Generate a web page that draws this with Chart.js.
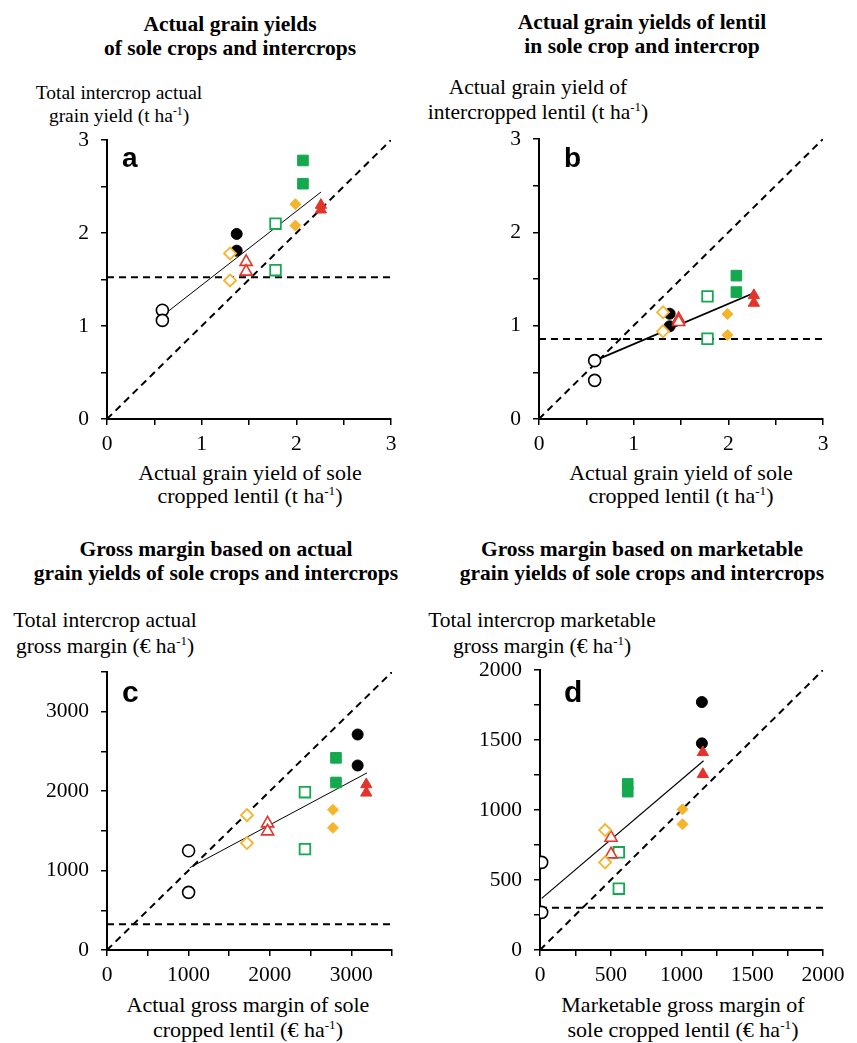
<!DOCTYPE html>
<html>
<head>
<meta charset="utf-8">
<script src="https://cdn.jsdelivr.net/npm/chart.js@4/dist/chart.umd.min.js"></script>
<style>
  body { margin: 0; background: #fff; }
  #page { position: relative; width: 857px; height: 1043px; font-family: 'Liberation Serif', 'Times New Roman', serif; color: #000; }
  .txt { position: absolute; width: 440px; margin-left: -220px; text-align: center; white-space: nowrap; }
  .txt sup { font-size: 0.6em; line-height: 0; vertical-align: 0.6em; }
  canvas { position: absolute; }
</style>
</head>
<body>
<div id="page"></div>
<script>
// marker groups, two points each, same order in every panel:
// open circle, black dot, open diamond, open triangle, open square, orange diamond, green square, red triangle
const groupOf = [0, 0, 1, 1, 2, 2, 3, 3, 4, 4, 5, 5, 6, 6, 7, 7];

// a: actual grain yields (t/ha)
const yieldSoleX  = [0.585, 0.585, 1.37, 1.37, 1.30, 1.30, 1.47, 1.47, 1.78, 1.78, 1.99, 1.99, 2.07, 2.07, 2.26, 2.26];
const yieldTotalY = [1.17, 1.06, 1.99, 1.81, 1.78, 1.49, 1.69, 1.585, 2.10, 1.60, 2.31, 2.08, 2.78, 2.53, 2.30, 2.25];
const yieldFitX = [0.63, 2.26];
const yieldFitY = [1.145, 2.44];

// b: lentil yield sole vs intercropped (t/ha)
const lentilSoleX  = [0.588, 0.588, 1.38, 1.38, 1.31, 1.31, 1.475, 1.475, 1.78, 1.78, 1.99, 1.99, 2.085, 2.085, 2.27, 2.27];
const lentilInterY = [0.625, 0.414, 1.128, 0.993, 1.143, 0.94, 1.07, 1.04, 1.314, 0.86, 1.125, 0.90, 1.536, 1.36, 1.325, 1.243];
const lentilFitX = [0.59, 2.27];
const lentilFitY = [0.625, 1.35];

// c: gross margin, actual yields (EUR/ha)
const marginSoleX  = [1002, 1002, 3078, 3078, 1719, 1719, 1972, 1972, 2431, 2431, 2775, 2775, 2812, 2812, 3184, 3184];
const marginTotalY = [1249, 726, 2713, 2323, 1698, 1346, 1594, 1493, 1987, 1270, 1765, 1538, 2419, 2109, 2084, 1979];
const marginFitX = [1015, 3193];
const marginFitY = [1035, 2230];

// d: gross margin, marketable yields (EUR/ha)
const marketSoleX  = [12, 12, 1144, 1144, 460, 460, 502, 502, 557, 557, 1007, 1007, 620, 620, 1151, 1151];
const marketTotalY = [626, 269, 1771, 1476, 857, 626, 802, 683, 698, 438, 1005, 898, 1186, 1131, 1412, 1255];
const marketFitX = [12, 1156];
const marketFitY = [369, 1352];

// horizontal reference levels (sole crop)
const refLevels = [1.525, 0.857, 323, 302];

const GREEN = '#14a84f', ORANGE = '#f5b42c', RED = '#e3342b';
// order: lower number is drawn on top (open diamonds cover the black dots)
const markers = [
  { shape: 'circle',   fill: '#fff',  line: '#000', r: 6,   bw: 1.6, order: 1 },
  { shape: 'circle',   fill: '#000',  line: '#000', r: 5.5, bw: 1,   order: 3 },
  { shape: 'rectRot',  fill: '#fff',  line: ORANGE, r: 6,   bw: 1.8, order: 1 },
  { shape: 'triangle', fill: '#fff',  line: RED,    r: 7,   bw: 1.6, order: 1 },
  { shape: 'rect',     fill: '#fff',  line: GREEN,  r: 7.5, bw: 1.8, order: 2 },
  { shape: 'rectRot',  fill: ORANGE,  line: ORANGE, r: 5.5, bw: 1,   order: 1 },
  { shape: 'rect',     fill: GREEN,   line: GREEN,  r: 7.5, bw: 1,   order: 1 },
  { shape: 'triangle', fill: RED,     line: RED,    r: 6.5, bw: 1,   order: 1 }
];

const page = document.getElementById('page');

const texts = [
  { html: 'Actual grain yields<br>of sole crops and intercrops', cx: 230, top: 12, size: 21.5, lh: 24, bold: true },
  { html: 'Actual grain yields of lentil<br>in sole crop and intercrop', cx: 642, top: 10, size: 21.5, lh: 24, bold: true },
  { html: 'Gross margin based on actual<br>grain yields of sole crops and intercrops', cx: 216, top: 537, size: 21.5, lh: 24, bold: true },
  { html: 'Gross margin based on marketable<br>grain yields of sole crops and intercrops', cx: 642, top: 537, size: 21.5, lh: 24, bold: true },
  { html: 'Total intercrop actual<br>grain yield (t ha<sup>-1</sup>)', cx: 119, top: 81, size: 19.5, lh: 23 },
  { html: 'Actual grain yield of<br>intercropped lentil (t ha<sup>-1</sup>)', cx: 538, top: 75, size: 21.5, lh: 25 },
  { html: 'Total intercrop actual<br>gross margin (€ ha<sup>-1</sup>)', cx: 105, top: 607, size: 21.5, lh: 26 },
  { html: 'Total intercrop marketable<br>gross margin (€ ha<sup>-1</sup>)', cx: 542, top: 607, size: 21.5, lh: 26 },
  { html: 'Actual grain yield of sole<br>cropped lentil (t ha<sup>-1</sup>)', cx: 250, top: 461, size: 22, lh: 23 },
  { html: 'Actual grain yield of sole<br>cropped lentil (t ha<sup>-1</sup>)', cx: 681, top: 461, size: 22, lh: 23 },
  { html: 'Actual gross margin of sole<br>cropped lentil (€ ha<sup>-1</sup>)', cx: 248, top: 992, size: 22, lh: 25 },
  { html: 'Marketable gross margin of<br>sole cropped lentil (€ ha<sup>-1</sup>)', cx: 683, top: 992, size: 22, lh: 25 }
];
texts.forEach(t => {
  const d = document.createElement('div');
  d.className = 'txt';
  d.innerHTML = t.html;
  d.style.left = t.cx + 'px';
  d.style.top = t.top + 'px';
  d.style.fontSize = t.size + 'px';
  d.style.lineHeight = t.lh + 'px';
  if (t.bold) d.style.fontWeight = 'bold';
  page.appendChild(d);
});

const letterPlugin = {
  id: 'panelLetter',
  afterDraw(chart, args, opts) {
    const ctx = chart.ctx, area = chart.chartArea;
    ctx.save();
    ctx.font = 'bold ' + opts.size + 'px "Liberation Sans", Arial, sans-serif';
    ctx.fillStyle = '#000';
    ctx.textBaseline = 'alphabetic';
    ctx.fillText(opts.text, area.left + opts.dx, area.top + opts.dy);
    ctx.restore();
  }
};

const panels = [
  { letter: 'a', xs: yieldSoleX,  ys: yieldTotalY,  fitX: yieldFitX,  fitY: yieldFitY,  ref: refLevels[0], max: 3,    step: 0.5, every: 1,    area: [107, 140, 391, 419], dx: 15, dy: 27, lsize: 28, fitW: 1 },
  { letter: 'b', xs: lentilSoleX, ys: lentilInterY, fitX: lentilFitX, fitY: lentilFitY, ref: refLevels[1], max: 3,    step: 0.5, every: 1,    area: [539, 139, 823, 419], dx: 25, dy: 28, lsize: 28, fitW: 1.8 },
  { letter: 'c', xs: marginSoleX, ys: marginTotalY, fitX: marginFitX, fitY: marginFitY, ref: refLevels[2], max: 3500, step: 500, every: 1000, area: [107, 672, 392, 950], dx: 15, dy: 30, lsize: 30, fitW: 1 },
  { letter: 'd', xs: marketSoleX, ys: marketTotalY, fitX: marketFitX, fitY: marketFitY, ref: refLevels[3], max: 2000, step: 250, every: 500,  area: [540, 670, 823, 950], dx: 24, dy: 32, lsize: 30, fitW: 1.2 }
];

const tickFont = { family: "'Liberation Serif', 'Times New Roman', serif", size: 21.5 };

function axis(p, horizontal) {
  return {
    type: 'linear',
    min: 0,
    max: p.max,
    border: { color: '#000', width: 2 },
    grid: { drawOnChartArea: false, drawTicks: true, tickLength: 6, color: '#000', lineWidth: 1.5 },
    ticks: {
      stepSize: p.step,
      autoSkip: false,
      maxRotation: 0,
      color: '#000',
      font: tickFont,
      padding: horizontal ? 6 : 12,
      callback: v => (Math.abs(v / p.every - Math.round(v / p.every)) < 1e-6 ? String(v) : '')
    },
    afterFit: s => { if (horizontal) s.height = 48; else s.width = 75; }
  };
}

panels.forEach(p => {
  const padL = 75, padT = 32, padR = 30, padB = 48;
  const w = p.area[2] - p.area[0], h = p.area[3] - p.area[1];
  const cv = document.createElement('canvas');
  cv.width = w + padL + padR;
  cv.height = h + padT + padB;
  cv.style.left = (p.area[0] - padL) + 'px';
  cv.style.top = (p.area[1] - padT) + 'px';
  page.appendChild(cv);

  const datasets = markers.map((m, g) => ({
    data: p.xs.map((x, i) => ({ x: x, y: p.ys[i] })).filter((pt, i) => groupOf[i] === g),
    pointStyle: m.shape,
    pointRadius: m.r,
    pointBackgroundColor: m.fill,
    pointBorderColor: m.line,
    pointBorderWidth: m.bw,
    order: m.order,
    showLine: false
  }));
  datasets.push({
    data: [{ x: p.fitX[0], y: p.fitY[0] }, { x: p.fitX[1], y: p.fitY[1] }],
    showLine: true, pointRadius: 0, borderColor: '#000', borderWidth: p.fitW, order: 5
  });
  datasets.push({
    data: [{ x: 0, y: p.ref }, { x: p.max, y: p.ref }],
    showLine: true, pointRadius: 0, borderColor: '#000', borderWidth: 2, borderDash: [7, 5], order: 6
  });
  datasets.push({
    data: [{ x: 0, y: 0 }, { x: p.max, y: p.max }],
    showLine: true, pointRadius: 0, borderColor: '#000', borderWidth: 2, borderDash: [7, 5], order: 6
  });

  new Chart(cv, {
    type: 'scatter',
    data: { datasets: datasets },
    options: {
      responsive: false,
      animation: false,
      events: [],
      layout: { padding: { left: 0, top: padT, right: padR, bottom: 0 } },
      plugins: {
        legend: { display: false },
        tooltip: { enabled: false },
        panelLetter: { text: p.letter, dx: p.dx, dy: p.dy, size: p.lsize }
      },
      scales: { x: axis(p, true), y: axis(p, false) }
    },
    plugins: [letterPlugin]
  });
});
</script>
</body>
</html>
